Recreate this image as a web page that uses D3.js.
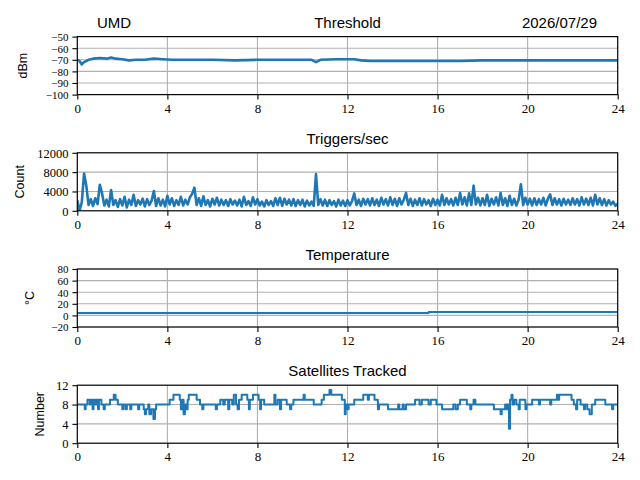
<!DOCTYPE html>
<html>
<head>
<meta charset="utf-8">
<script src="https://cdn.jsdelivr.net/npm/d3@7.9.0/dist/d3.min.js"></script>
<style>
  body { margin: 0; background: #fff; }
  svg { display: block; }
  .tick text { font-family: "Liberation Serif", "DejaVu Serif", serif; fill: #000; }
  .xax .tick text { font-size: 13px; }
  .ttl { font-family: "Liberation Sans", "DejaVu Sans", sans-serif; font-size: 15px; fill: #000; }
  .ylab { font-family: "Liberation Sans", "DejaVu Sans", sans-serif; font-size: 12.5px; fill: #000; }
</style>
</head>
<body>
<svg id="chart" width="640" height="480"></svg>
<script>
// ---- data ----
const site = 'UMD';
const day = '2026/07/29';
const hourTicks = [0, 4, 8, 12, 16, 20, 24];

const thresholdHours = [0, 0.1, 0.2, 0.3, 0.5, 0.7, 1.0, 1.3, 1.5, 1.7, 2.0, 2.3, 2.6, 3.0, 3.4, 3.8, 4.2, 5, 6, 7, 8, 9, 10, 10.4, 10.6, 10.8, 11.5, 12.3, 12.6, 13, 14, 15, 16, 17, 18, 19, 20, 21, 22, 23, 24];
const thresholdDbm = [-70, -71, -74, -72, -70, -69, -68.5, -69, -68, -69, -69.5, -70.5, -70, -70, -69, -69.5, -70, -70, -70, -70.5, -70, -70, -70, -70, -72, -70, -69.5, -69.5, -70.5, -71, -71, -71, -71, -71, -70.5, -70.5, -70.5, -70.5, -70.5, -70.5, -70.5];

// one value every 0.1 h
const triggerRate = [
  2200, 0, 1800, 7700, 5200, 1200, 2400, 1000, 2600, 1400,
  5400, 3600, 1100, 2300, 900, 4300, 1200, 2200, 800, 2400,
  1100, 2900, 700, 2300, 1200, 3300, 1000, 2200, 1300, 2500,
  900, 2400, 1200, 2100, 4100, 1000, 2600, 1100, 2300, 900,
  3100, 1300, 2600, 1000, 2200, 1200, 2900, 1100, 2300, 1300,
  2800, 3500, 4800, 1200, 2600, 1000, 3000, 1200, 2200, 900,
  2500, 1300, 2700, 1100, 2300, 1200, 2200, 1000, 2400, 1300,
  2100, 1100, 2300, 900, 2900, 1200, 2000, 1000, 2800, 1300,
  2400, 1100, 1900, 900, 2200, 1200, 2000, 1000, 2600, 1200,
  2700, 1000, 2500, 1300, 2300, 1100, 2400, 1000, 2200, 1200,
  2300, 900, 2100, 1100, 1900, 1000, 7600, 1200, 2400, 1100,
  2300, 1000, 2200, 1200, 2000, 900, 2300, 1100, 2100, 1000,
  2200, 1100, 2000, 3600, 1200, 2300, 1000, 2500, 1300, 2400,
  1100, 2600, 1200, 2300, 1000, 2700, 1300, 2400, 1100, 2800,
  1200, 2500, 1000, 2600, 1300, 2300, 3700, 1200, 2500, 1000,
  2300, 1200, 2600, 1100, 2400, 1300, 2200, 1000, 2500, 1200,
  2300, 1100, 3300, 1200, 2600, 1300, 2400, 1100, 2700, 1200,
  3700, 1300, 2800, 1100, 3600, 1200, 5200, 1300, 2700, 1100,
  2600, 1200, 3300, 1000, 2500, 1300, 2800, 1100, 3700, 1200,
  2600, 1000, 3100, 1200, 2500, 1100, 2300, 5500, 1200, 2700,
  1300, 2500, 1100, 2600, 1200, 2400, 1300, 2700, 1100, 2500,
  3400, 1200, 2600, 1300, 2400, 1100, 2500, 1300, 2300, 1200,
  2600, 1300, 2400, 1100, 2800, 1300, 2500, 1200, 2700, 1100,
  3300, 1300, 2600, 1200, 2400, 1100, 2200, 1300, 1900, 1000,
  1500
];

const tempHours = [0, 15.6, 15.6, 24];
const tempC = [4, 4, 6, 6];

const satHours = [0, 0.33, 0.37, 0.45, 0.55, 0.6, 0.68, 0.72, 0.8, 0.85, 0.92, 0.96, 1.07, 1.17, 1.22, 1.45, 1.62, 1.7, 1.8, 2.0, 2.05, 2.15, 2.2, 2.35, 2.4, 2.7, 2.75, 2.95, 3.0, 3.05, 3.15, 3.2, 3.28, 3.38, 3.45, 3.5, 4.1, 4.27, 4.55, 4.6, 4.68, 4.72, 4.78, 4.85, 4.9, 4.95, 5.3, 5.45, 5.55, 5.6, 6.15, 6.2, 6.35, 6.48, 6.55, 6.7, 6.75, 6.88, 6.95, 7.05, 7.12, 7.18, 7.3, 7.55, 7.62, 7.66, 7.8, 8.05, 8.12, 8.16, 8.3, 8.75, 8.8, 8.9, 9.0, 9.05, 9.3, 9.45, 9.5, 9.6, 10.05, 10.1, 10.5, 10.85, 10.95, 11.2, 11.28, 11.75, 11.88, 11.92, 12.0, 12.05, 12.3, 12.7, 12.9, 12.95, 13.2, 13.35, 13.4, 13.8, 14.25, 14.3, 14.45, 14.5, 14.6, 15.0, 15.2, 15.3, 15.6, 15.7, 15.95, 16.2, 16.7, 16.8, 16.9, 17.0, 17.3, 17.45, 17.5, 17.6, 17.68, 18.5, 18.8, 18.85, 19.0, 19.05, 19.1, 19.17, 19.22, 19.28, 19.33, 19.4, 19.5, 19.6, 19.65, 19.9, 19.95, 20.2, 20.5, 20.55, 21.0, 21.05, 21.3, 21.35, 21.4, 21.95, 22.05, 22.15, 22.2, 22.35, 22.5, 22.55, 22.65, 22.75, 22.85, 23.0, 23.45, 23.75, 23.8, 24];
const satCount = [8, 7, 8, 9, 8, 9, 7, 9, 8, 9, 7, 9, 8, 7, 8, 9, 10, 9, 8, 7, 8, 7, 8, 7, 8, 7, 8, 7, 6, 7, 8, 6, 7, 5, 7, 8, 9, 10, 9, 7, 9, 6, 8, 7, 9, 10, 9, 8, 7, 8, 7, 8, 9, 8, 9, 7, 9, 8, 10, 8, 7, 9, 10, 9, 7, 9, 10, 9, 7, 9, 8, 10, 8, 9, 7, 9, 8, 7, 8, 9, 10, 9, 8, 9, 10, 11, 10, 9, 6, 8, 7, 8, 9, 10, 9, 10, 9, 7, 8, 7, 8, 7, 8, 7, 8, 9, 8, 9, 8, 9, 8, 7, 8, 7, 8, 9, 8, 7, 8, 9, 8, 7, 6, 7, 8, 7, 8, 3, 9, 10, 8, 9, 8, 7, 9, 7, 8, 9, 8, 9, 8, 9, 10, 9, 10, 9, 8, 7, 9, 8, 7, 8, 7, 6, 8, 9, 8, 7, 8, 8];

// ---- layout ----
const svg = d3.select('#chart');
const left = 77.3, right = 617.7, panelH = 58;
const tops = [36.6, 152.8, 269, 385.2];
const blue = '#1f77b4';

const x = d3.scaleLinear().domain([0, 24]).range([left, right]);

function panel(i, o) {
  const top = tops[i], bottom = top + panelH;
  const y = d3.scaleLinear().domain(o.domain).range([bottom, top]);
  const g = svg.append('g');

  // grid
  g.selectAll('.vg').data(hourTicks).join('line')
    .attr('x1', d => x(d)).attr('x2', d => x(d))
    .attr('y1', top).attr('y2', bottom)
    .attr('stroke', '#b0b0b0').attr('stroke-width', 1.1);
  g.selectAll('.hg').data(o.ticks).join('line')
    .attr('x1', left).attr('x2', right)
    .attr('y1', d => y(d)).attr('y2', d => y(d))
    .attr('stroke', '#b0b0b0').attr('stroke-width', 1.1);

  // data line
  const clipId = 'clip' + i;
  g.append('clipPath').attr('id', clipId).append('rect')
    .attr('x', left).attr('y', top).attr('width', right - left).attr('height', panelH);
  const line = d3.line().x(d => x(d[0])).y(d => y(d[1]));
  if (o.step) line.curve(d3.curveStepAfter);
  g.append('path').datum(o.points)
    .attr('clip-path', `url(#${clipId})`)
    .attr('d', line)
    .attr('fill', 'none').attr('stroke', blue)
    .attr('stroke-width', o.lw || 2).attr('stroke-linejoin', 'round');

  // axes
  const ax = g.append('g').attr('class', 'xax').attr('transform', `translate(0,${bottom})`)
    .call(d3.axisBottom(x).tickValues(hourTicks).tickSize(4.9).tickPadding(4).tickFormat(d3.format('d')));
  const ay = g.append('g').attr('class', 'yax').attr('transform', `translate(${left},0)`)
    .call(d3.axisLeft(y).tickValues(o.ticks).tickSize(4.9).tickPadding(4).tickFormat(d3.format('d')));
  [ax, ay].forEach(a => {
    a.select('.domain').remove();
    a.selectAll('.tick line').attr('stroke', '#000').attr('stroke-width', 1.1);
  });
  ay.selectAll('.tick text').attr('dy', '0.35em').style('font-size', o.tickFont + 'px');

  g.append('rect').attr('x', left).attr('y', top)
    .attr('width', right - left).attr('height', panelH)
    .attr('fill', 'none').attr('stroke', '#000').attr('stroke-width', 1.1);

  // titles
  g.append('text').attr('class', 'ttl').attr('x', (left + right) / 2).attr('y', top - 9)
    .attr('text-anchor', 'middle').text(o.title);
  g.append('text').attr('class', 'ylab')
    .attr('transform', `translate(${o.labelX},${(top + bottom) / 2}) rotate(-90)`)
    .attr('text-anchor', 'middle').attr('dy', '0.35em').text(o.label);
  return top;
}

const top0 = panel(0, {
  title: 'Threshold', label: 'dBm', labelX: 23, tickFont: 11,
  domain: [-100, -50], ticks: [-100, -90, -80, -70, -60, -50],
  points: thresholdHours.map((h, k) => [h, thresholdDbm[k]]), lw: 2.6
});
svg.append('text').attr('class', 'ttl').attr('x', 97).attr('y', top0 - 9).text(site);
svg.append('text').attr('class', 'ttl').attr('x', 597).attr('y', top0 - 9)
  .attr('text-anchor', 'end').text(day);

panel(1, {
  title: 'Triggers/sec', label: 'Count', labelX: 20, tickFont: 12.5,
  domain: [0, 12000], ticks: [0, 4000, 8000, 12000],
  points: triggerRate.map((v, k) => [k / 10, v]), lw: 2.6
});

panel(2, {
  title: 'Temperature', label: '°C', labelX: 30, tickFont: 11,
  domain: [-20, 80], ticks: [-20, 0, 20, 40, 60, 80],
  points: tempHours.map((h, k) => [h, tempC[k]]), lw: 2
});

panel(3, {
  title: 'Satellites Tracked', label: 'Number', labelX: 40, tickFont: 12.5,
  domain: [0, 12], ticks: [0, 4, 8, 12],
  points: satHours.map((h, k) => [h, satCount[k]]), lw: 2, step: true
});
</script>
</body>
</html>
